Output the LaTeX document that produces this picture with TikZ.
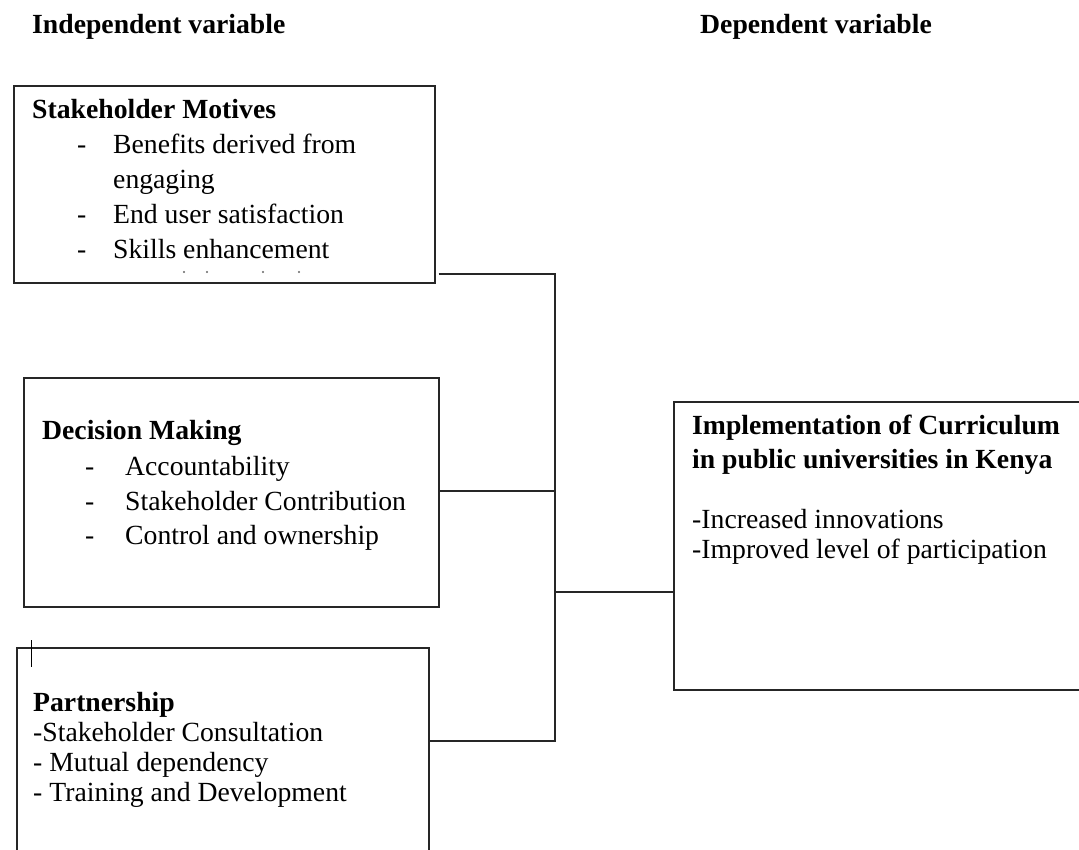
\documentclass[tikz,border=0pt]{standalone}
\usepackage{fontspec}
\setmainfont{Liberation Serif}
\begin{document}
\begin{tikzpicture}[x=1pt,y=-1pt,
  box/.style={draw=black!85, line width=1.7pt, rectangle, inner sep=0pt, anchor=north west},
  txt/.style={anchor=base west, inner sep=0pt, font=\fontsize{27.7}{33}\selectfont},
  btxt/.style={txt, font=\fontsize{27.7}{33}\selectfont\bfseries},
  conn/.style={draw=black!85, line width=1.7pt}]
\useasboundingbox (0,0) rectangle (1079,850);
\clip (0,0) rectangle (1079,850);
\fill[white] (0,0) rectangle (1079,850);

% headers
\node[btxt] (hi) at (32,34) {Independent variable};
\node[btxt] (hd) at (700,34) {Dependent variable};

% boxes
\node[box, minimum width=421pt, minimum height=197pt] (m) at (13,85) {};
\node[box, minimum width=415pt, minimum height=229pt] (d) at (23,377) {};
\node[box, minimum width=412pt, minimum height=260pt] (p) at (16,647) {};
\node[box, minimum width=430pt, minimum height=288pt] (imp) at (673,401) {};

% box 1 text
\node[btxt] (m0) at (32,119) {Stakeholder Motives};
\node[txt] (m1) at (77,154) {\makebox[36pt][l]{-}Benefits derived from};
\node[txt] (m2) at (113,189) {engaging};
\node[txt] (m3) at (77,224) {\makebox[36pt][l]{-}End user satisfaction};
\node[txt] (m4) at (77,259) {\makebox[36pt][l]{-}Skills enhancement};
\foreach \xx/\nm in {184/a,207/b,263/c,299/d}
  \fill[black!60] (\xx,272) circle (1.1pt) coordinate (dot\nm);

% box 2 text
\node[btxt] (d0) at (42,439) {Decision Making};
\node[txt] (d1) at (85,475) {\makebox[40pt][l]{-}Accountability};
\node[txt] (d2) at (85,510) {\makebox[40pt][l]{-}Stakeholder Contribution};
\node[txt] (d3) at (85,544) {\makebox[40pt][l]{-}Control and ownership};

% box 3 text
\node[btxt] (p0) at (33,711) {Partnership};
\node[txt] (p1) at (33,741) {-Stakeholder Consultation};
\node[txt] (p2) at (33,771) {- Mutual dependency};
\node[txt] (p3) at (33,801) {- Training and Development};
\draw[black, line width=1pt] (31,640) coordinate (cur1) -- (31,667) coordinate (cur2);

% implementation text
\node[btxt] (i0) at (692,434) {Implementation of Curriculum};
\node[btxt] (i1) at (692,468) {in public universities in Kenya};
\node[txt] (i2) at (692,528) {-Increased innovations};
\node[txt] (i3) at (692,558) {-Improved level of participation};

% connectors
\coordinate (jt) at (555,274);
\coordinate (jm) at (555,491);
\coordinate (jc) at (555,592);
\coordinate (jb) at (555,741);
\draw[conn] ([xshift=3pt]m.east |- jt) -- (jt) -- (jb) -- (p.east |- jb);
\draw[conn] (d.east |- jm) -- (jm);
\draw[conn] (jc) -- (imp.west |- jc);
\end{tikzpicture}
\end{document}
